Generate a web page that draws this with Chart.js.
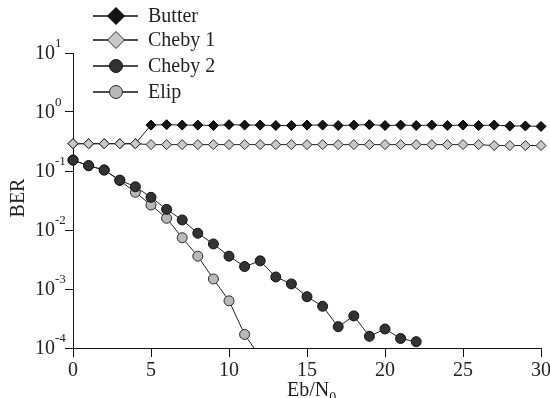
<!DOCTYPE html>
<html>
<head>
<meta charset="utf-8">
<script src="https://cdn.jsdelivr.net/npm/chart.js@4/dist/chart.umd.min.js"></script>
<style>
  body { margin: 0; background: #fff; }
  canvas { display: block; }
</style>
</head>
<body>
<canvas id="berChart" width="550" height="398"></canvas>
<script>
// Eb/N0 points (dB)
const ebn0 = [0, 1, 2, 3, 4, 5, 6, 7, 8, 9, 10, 11, 12, 13, 14, 15,
              16, 17, 18, 19, 20, 21, 22, 23, 24, 25, 26, 27, 28, 29, 30];

// BER per filter
const butter = [0.29, 0.29, 0.29, 0.29, 0.29, 0.6, 0.61, 0.6, 0.6, 0.59, 0.61,
                0.6, 0.6, 0.59, 0.59, 0.6, 0.6, 0.59, 0.6, 0.61, 0.59, 0.6,
                0.59, 0.6, 0.59, 0.6, 0.59, 0.6, 0.58, 0.58, 0.57];
const cheby1 = [0.29, 0.29, 0.29, 0.29, 0.29, 0.28, 0.28, 0.28, 0.28, 0.28, 0.28,
                0.28, 0.28, 0.28, 0.28, 0.28, 0.28, 0.28, 0.28, 0.28, 0.28, 0.28,
                0.28, 0.28, 0.28, 0.28, 0.28, 0.27, 0.27, 0.27, 0.27];
const cheby2 = [0.153, 0.123, 0.104, 0.070, 0.054, 0.0358, 0.0224, 0.0148, 0.0088,
                0.0058, 0.0036, 0.0024, 0.0030, 0.0016, 0.00122, 0.00074, 0.00051,
                0.00023, 0.00035, 0.000158, 0.00021, 0.000145, 0.000128];
const elip = [0.153, 0.123, 0.104, 0.069, 0.0436, 0.0265, 0.0158, 0.0074, 0.0036,
              0.00148, 0.00063, 0.00017, 0.00007];

const yTicks = [1e-4, 1e-3, 1e-2, 1e-1, 1, 10];
const yExponents = ['-4', '-3', '-2', '-1', '0', '1'];
const xTicks = [0, 5, 10, 15, 20, 25, 30];

const FONT = '"Liberation Serif", "Times New Roman", serif';

const series = [
    { label: 'Butter',  data: butter, style: 'rectRot', fill: '#151515', border: '#000000', order: 1 },
    { label: 'Cheby 1', data: cheby1, style: 'rectRot', fill: '#c8c8c8', border: '#2a2a2a', order: 0 },
    { label: 'Cheby 2', data: cheby2, style: 'circle',  fill: '#333333', border: '#111111', order: 2 },
    { label: 'Elip',    data: elip,   style: 'circle',  fill: '#b8b8b8', border: '#2a2a2a', order: 3 }
];

// legend rows and labels drawn by hand, like the original figure
const legendRows = [16, 40, 66, 92];

const customText = {
    id: 'customText',
    afterDraw(chart) {
        const ctx = chart.ctx;
        const xs = chart.scales.x;
        const ys = chart.scales.y;
        ctx.save();
        ctx.fillStyle = '#222';

        // y tick labels: 10 with raised exponent
        yTicks.forEach((v, i) => {
            const py = ys.getPixelForValue(v);
            ctx.font = '20px ' + FONT;
            ctx.textAlign = 'right';
            ctx.textBaseline = 'middle';
            ctx.fillText('10', 55, py + 1);
            ctx.font = '13px ' + FONT;
            ctx.textAlign = 'left';
            ctx.textBaseline = 'alphabetic';
            ctx.fillText(yExponents[i], 55, py - 6);
        });

        // x tick labels
        ctx.font = '20px ' + FONT;
        ctx.textAlign = 'center';
        ctx.textBaseline = 'middle';
        xTicks.forEach(v => {
            ctx.fillText(String(v), xs.getPixelForValue(v), 371);
        });

        // axis titles
        ctx.save();
        ctx.translate(19, 198);
        ctx.rotate(-Math.PI / 2);
        ctx.textAlign = 'center';
        ctx.fillText('BER', 0, 0);
        ctx.restore();

        ctx.textAlign = 'left';
        ctx.textBaseline = 'alphabetic';
        ctx.font = '20px ' + FONT;
        const main = 'Eb/N';
        const w = ctx.measureText(main).width;
        const startX = 287;
        ctx.fillText(main, startX, 396);
        ctx.font = '14px ' + FONT;
        ctx.fillText('0', startX + w, 402);

        // legend
        series.forEach((s, i) => {
            const ry = legendRows[i];
            ctx.strokeStyle = '#111';
            ctx.lineWidth = 1.5;
            ctx.beginPath();
            ctx.moveTo(93, ry);
            ctx.lineTo(138, ry);
            ctx.stroke();
            ctx.fillStyle = s.fill;
            ctx.strokeStyle = s.border;
            ctx.lineWidth = 1;
            Chart.helpers.drawPoint(ctx, {
                pointStyle: s.style,
                radius: s.style === 'circle' ? 6.5 : 8.5,
                rotation: 0,
                borderWidth: 1
            }, 116, ry);
            ctx.fillStyle = '#222';
            ctx.font = '20px ' + FONT;
            ctx.textAlign = 'left';
            ctx.textBaseline = 'middle';
            ctx.fillText(s.label, 148, ry + 1);
        });
        ctx.restore();
    }
};

const datasets = series.map(s => ({
    label: s.label,
    data: s.data.map((v, i) => ({ x: ebn0[i], y: v })),
    order: s.order,
    borderColor: '#222',
    borderWidth: 1,
    tension: 0,
    pointStyle: s.style,
    pointRadius: 5,
    pointHoverRadius: 5,
    pointBackgroundColor: s.fill,
    pointBorderColor: s.border,
    pointBorderWidth: 1,
    clip: { left: 10, top: 10, right: 10, bottom: 0 }
}));

new Chart(document.getElementById('berChart'), {
    type: 'line',
    data: { datasets: datasets },
    options: {
        responsive: false,
        animation: false,
        layout: { padding: { top: 53, right: 9, left: 0, bottom: 0 } },
        plugins: {
            legend: { display: false },
            tooltip: { enabled: false }
        },
        scales: {
            x: {
                type: 'linear',
                min: 0,
                max: 30,
                ticks: { display: false, stepSize: 5 },
                grid: { drawOnChartArea: false, tickLength: 9, color: '#111' },
                border: { color: '#111', width: 1 },
                afterFit: axis => { axis.height = 50; }
            },
            y: {
                type: 'logarithmic',
                min: 1e-4,
                max: 10,
                ticks: { display: false },
                grid: { drawOnChartArea: false, tickLength: 8, color: '#111' },
                border: { color: '#111', width: 1 },
                afterBuildTicks: axis => { axis.ticks = yTicks.map(v => ({ value: v })); },
                afterFit: axis => { axis.width = 73; }
            }
        }
    },
    plugins: [customText]
});
</script>
</body>
</html>
